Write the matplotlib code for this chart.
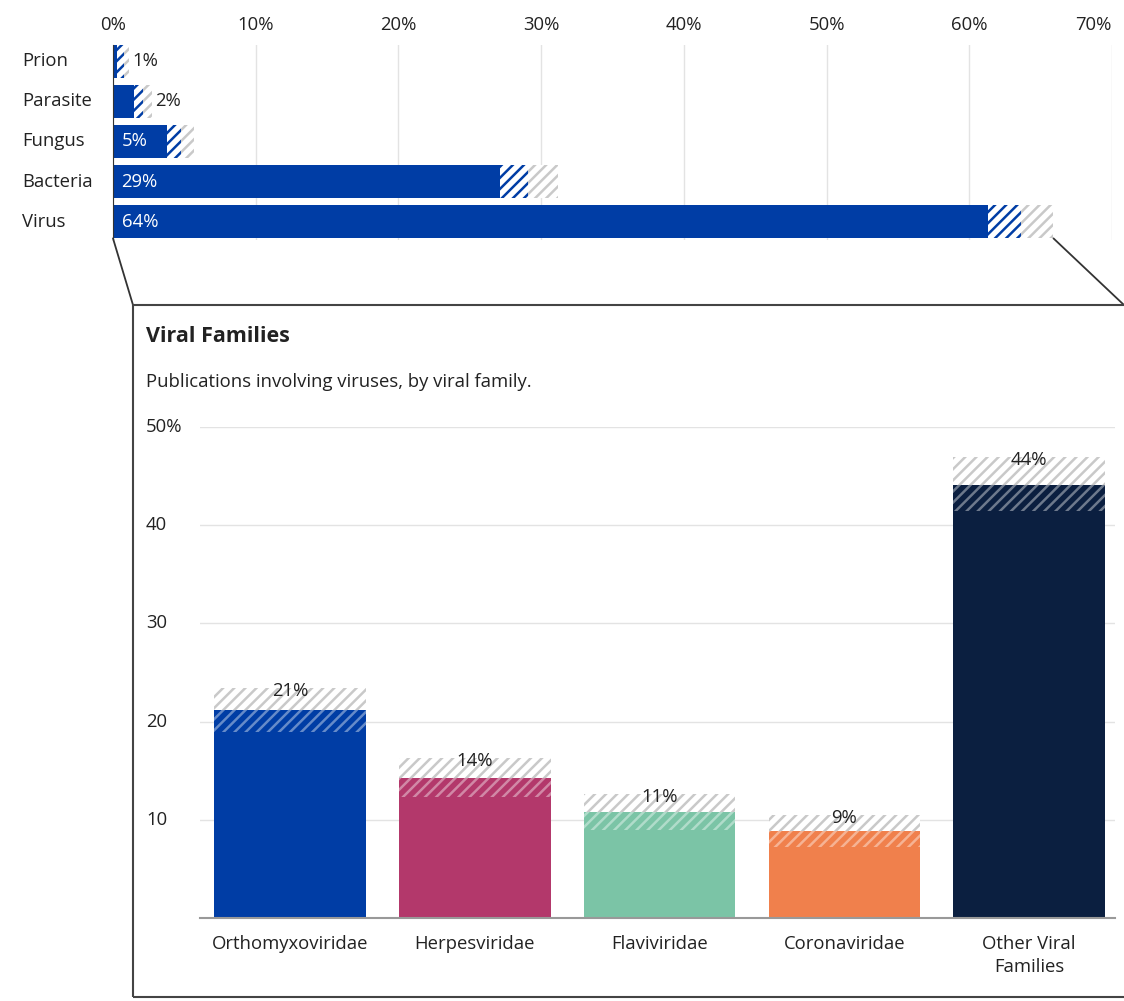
import matplotlib.pyplot as plt
import matplotlib.transforms as mtransforms
from matplotlib.patches import Rectangle, ConnectionPatch
from matplotlib.colors import to_rgb
import numpy as np

plt.rcParams['font.family'] = ['Open Sans', 'DejaVu Sans']
plt.rcParams['hatch.linewidth'] = 1.8

# dữ liệu: nhóm tác nhân (thanh ngang)
groups = ['Prion', 'Parasite', 'Fungus', 'Bacteria', 'Virus']
grp_low = [0.3, 1.5, 3.8, 27.1, 61.3]
grp_est = [0.8, 2.1, 4.75, 29.1, 63.6]
grp_high = [1.1, 2.7, 5.7, 31.2, 65.9]
grp_labels = ['1%', '2%', '5%', '29%', '64%']
top_ticks = [0, 10, 20, 30, 40, 50, 60, 70]

# dữ liệu: họ virus (thanh đứng)
families = ['Orthomyxoviridae', 'Herpesviridae', 'Flaviviridae', 'Coronaviridae', 'Other Viral\nFamilies']
fam_low = [18.9, 12.3, 8.95, 7.2, 41.4]
fam_est = [21.2, 14.3, 10.8, 8.85, 44.1]
fam_high = [23.4, 16.3, 12.6, 10.5, 46.9]
fam_labels = ['21%', '14%', '11%', '9%', '44%']
fam_colors = ['#003DA5', '#B3386B', '#7BC4A6', '#F0804C', '#0B1F40']
bottom_ticks = [10, 20, 30, 40, 50]

BLUE = '#003DA5'
GREY_HATCH = '#c9c9c9'
TEXT = '#222222'
FS = 13.3
W, H = 1124, 1001

def fx(px):
    return px / W

def fy(py):
    return 1 - py / H

def tint(c, f):
    r, g, b = to_rgb(c)
    return (r + (1 - r) * f, g + (1 - g) * f, b + (1 - b) * f)

fig = plt.figure(figsize=(W / 100, H / 100), dpi=100)

# ---- biểu đồ trên ----
ax = fig.add_axes([fx(113), fy(240), fx(1112) - fx(113), fy(45) - fy(240)])
y = np.arange(len(groups))
bh = 0.82
low = np.array(grp_low)
est = np.array(grp_est)
high = np.array(grp_high)
ax.barh(y, low, height=bh, color=BLUE, lw=0, zorder=3)
ax.barh(y, est - low, left=low, height=bh, facecolor='white', edgecolor=BLUE,
        hatch='///', lw=0, zorder=3)
ax.barh(y, high - est, left=est, height=bh, facecolor='white', edgecolor=GREY_HATCH,
        hatch='///', lw=0, zorder=3)
ax.set_xlim(0, 70)
ax.set_ylim(4.45, -0.4)
ax.xaxis.tick_top()
ax.set_xticks(top_ticks)
ax.set_xticklabels([f'{t}%' for t in top_ticks])
ax.tick_params(axis='x', length=0, pad=8, labelsize=FS, labelcolor=TEXT)
# nhãn cuối canh phải cho khỏi tràn mép
ax.get_xticklabels()[-1].set_horizontalalignment('right')
ax.set_yticks([])
ax.grid(axis='x', color='#e3e3e3', lw=1, zorder=0)
for s in ['top', 'right', 'bottom']:
    ax.spines[s].set_visible(False)
ax.spines['left'].set_color('#333333')
ax.spines['left'].set_zorder(4)

lbl_tr = mtransforms.blended_transform_factory(fig.transFigure, ax.transData)
off = mtransforms.offset_copy(ax.transData, fig=fig, x=4, y=0, units='dots')
for i, g in enumerate(groups):
    ax.text(fx(22), i, g, transform=lbl_tr, ha='left', va='center',
            fontsize=FS, color=TEXT)
    if low[i] > 3:
        ax.text(0.6, i, grp_labels[i], ha='left', va='center', fontsize=FS,
                color='white', zorder=5)
    else:
        ax.text(high[i], i, grp_labels[i], transform=off, ha='left', va='center',
                fontsize=FS, color=TEXT, zorder=5)

# ---- khung chi tiết ----
box_l, box_t, box_b = fx(133), fy(305), fy(997)
fig.patches.append(Rectangle((box_l, box_b), 1.1 - box_l, box_t - box_b,
                             transform=fig.transFigure, fill=False,
                             edgecolor='#444444', lw=1.5, zorder=1))
vi = groups.index('Virus')
for xa, xb in [(0, box_l), (high[vi], 1.0)]:
    con = ConnectionPatch(xyA=(xa, vi + bh / 2), coordsA=ax.transData,
                          xyB=(xb, box_t), coordsB=fig.transFigure,
                          color='#333333', lw=1.3)
    fig.add_artist(con)

fig.text(fx(146), fy(337), 'Viral Families', fontsize=15.5, fontweight='bold',
         color=TEXT, ha='left', va='center')
fig.text(fx(146), fy(382), 'Publications involving viruses, by viral family.',
         fontsize=FS, color=TEXT, ha='left', va='center')

# ---- biểu đồ dưới ----
ax2 = fig.add_axes([fx(200), fy(918), fx(1115) - fx(200), fy(427) - fy(918)])
xs = np.arange(len(families))
bw = 0.82
flow = np.array(fam_low)
fest = np.array(fam_est)
fhigh = np.array(fam_high)
for i in xs:
    c = fam_colors[i]
    ax2.bar(i, flow[i], width=bw, color=c, lw=0, zorder=3)
    ax2.bar(i, fest[i] - flow[i], bottom=flow[i], width=bw, facecolor=c,
            edgecolor=tint(c, 0.4), hatch='///', lw=0, zorder=3)
    ax2.bar(i, fhigh[i] - fest[i], bottom=fest[i], width=bw, facecolor='white',
            edgecolor=GREY_HATCH, hatch='///', lw=0, zorder=3)
    ax2.text(i, fhigh[i] - 0.3, fam_labels[i], ha='center', va='center',
             fontsize=FS, color=TEXT, zorder=5)
ax2.set_xlim(-0.487, 4.465)
ax2.set_ylim(0, 50)
ax2.set_xticks(xs)
ax2.set_xticklabels(families, linespacing=1.4)
ax2.tick_params(axis='x', length=0, pad=12, labelsize=FS, labelcolor=TEXT)
ax2.set_yticks(bottom_ticks)
ax2.set_yticklabels([])
ax2.tick_params(axis='y', length=0)
ax2.grid(axis='y', color='#e3e3e3', lw=1, zorder=0)
for s in ['top', 'right', 'left']:
    ax2.spines[s].set_visible(False)
ax2.spines['bottom'].set_color('#999999')
ax2.spines['bottom'].set_linewidth(1.5)
ax2.spines['bottom'].set_zorder(4)
ytr = mtransforms.blended_transform_factory(fig.transFigure, ax2.transData)
for t in bottom_ticks:
    s = f'{t}%' if t == bottom_ticks[-1] else f'{t}'
    ax2.text(fx(146), t, s, transform=ytr, ha='left', va='center',
             fontsize=FS, color=TEXT)

fig.savefig('out.png', dpi=100)
